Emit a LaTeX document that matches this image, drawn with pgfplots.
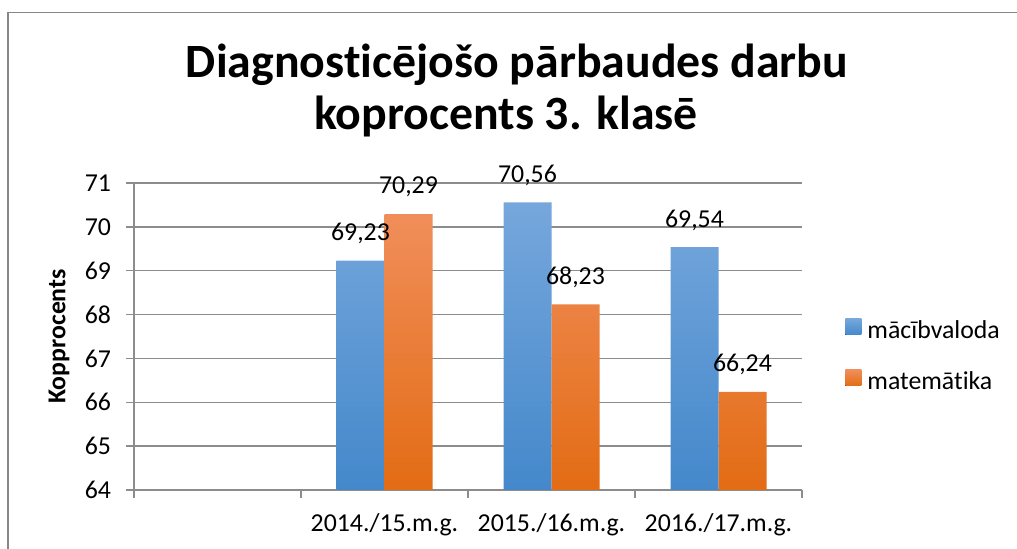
\documentclass[border=0pt]{standalone}
\usepackage{fontspec}
\setmainfont{Carlito}[Ligatures=NoCommon]
\usepackage{pgfplots}
\pgfplotsset{compat=1.18}

\definecolor{gridgray}{HTML}{8C8C8C}
\definecolor{framegray}{HTML}{878787}
\definecolor{blueT}{HTML}{76A7DC}
\definecolor{blueB}{HTML}{4488CB}
\definecolor{orangeT}{HTML}{F08E5A}
\definecolor{orangeB}{HTML}{E36C14}

\newcommand{\lbl}{\fontsize{12.9}{15}\selectfont}
\newcommand{\ttl}{\fontsize{23.9}{28}\selectfont\bfseries}

\begin{document}
\begin{tikzpicture}
\useasboundingbox (-67pt,-29.5pt) rectangle (441.5pt,245pt);
\draw[framegray, line width=0.6pt] (-63pt,-40pt) -- (-63pt,238.6pt) -- (460pt,238.6pt);

\begin{axis}[
  at={(0,0)}, anchor=south west,
  scale only axis, width=334pt, height=153.5pt,
  xmin=-0.5, xmax=3.5, ymin=64, ymax=71,
  ytick={64,65,...,71},
  xtick={-0.5,0.5,1.5,2.5,3.5}, xticklabels={},
  extra x ticks={0,1,2,3},
  extra x tick labels={,2014./15.m.g.,2015./16.m.g.,2016./17.m.g.},
  extra x tick style={major tick length=0pt, grid=none,
    xticklabel style={yshift=-8.5pt}},
  axis x line*=bottom, axis y line*=left,
  axis line style={-, draw=gridgray, line width=0.7pt},
  tick align=outside, major tick length=4pt,
  tick style={draw=gridgray, line width=0.7pt},
  ymajorgrids, grid style={draw=gridgray, line width=0.7pt},
  tick label style={font=\lbl},
  yticklabel style={xshift=-4pt},
  /pgf/number format/assume math mode=true,
  every axis y label/.style={at={(axis description cs:-0.1123,0.5)}, rotate=90, anchor=center, font=\lbl\bfseries},
  ylabel={Kopprocents},
  ybar=0pt, bar width=24pt,
  nodes near coords, point meta=explicit symbolic,
  every node near coord/.append style={anchor=center, yshift=13.5pt, font=\lbl, text=black},
  legend style={at={(axis description cs:1.0644,0.432)}, anchor=west, draw=none, fill=none,
    font=\lbl, row sep=12.5pt, inner sep=0pt,
    nodes={inner sep=0pt, text height=9pt, text depth=3pt}},
  legend cell align=left,
  legend image code/.code={\fill[#1] (0pt,-1pt) rectangle (8pt,7pt);},
]
\addplot[draw=none, top color=blueT, bottom color=blueB]
  coordinates {(1,69.23) [69,23] (2,70.56) [70,56] (3,69.54) [69,54]};
\addlegendentry{\hspace{3pt}mācībvaloda}
\addplot[draw=none, top color=orangeT, bottom color=orangeB]
  coordinates {(1,70.29) [70,29] (2,68.23) [68,23] (3,66.24) [66,24]};
\addlegendentry{\hspace{3pt}matemātika}
\end{axis}

\node[font=\ttl, anchor=base] at (191.5pt,206pt) {Diagnosticējošo pārbaudes darbu};
\node[font=\ttl, anchor=base] at (186pt,180pt) {koprocents 3. klasē};
\end{tikzpicture}
\end{document}
